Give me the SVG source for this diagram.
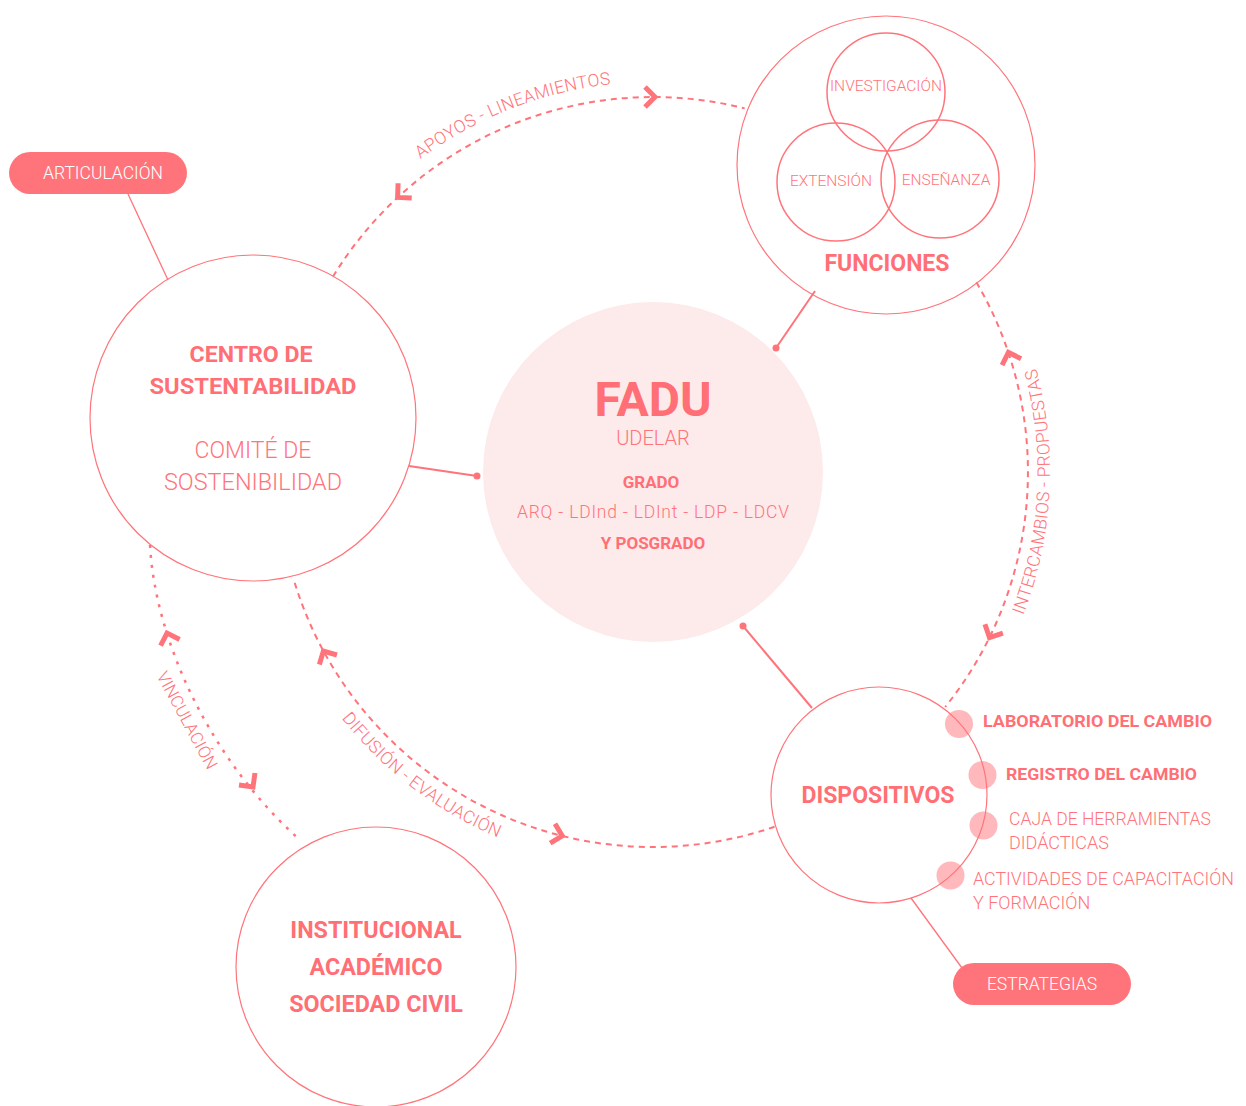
<svg xmlns="http://www.w3.org/2000/svg" xmlns:xlink="http://www.w3.org/1999/xlink" width="1246" height="1106" viewBox="0 0 1246 1106">
<style>
.t{font-family:Roboto,'Liberation Sans',sans-serif;fill:#ff747a;font-weight:300}
.b{font-family:Roboto,'Liberation Sans',sans-serif;fill:#ff6f75;font-weight:700}
.w{font-family:Roboto,'Liberation Sans',sans-serif;fill:#ffffff;font-weight:300;font-size:17.5px}
.c{text-anchor:middle}
.arc{font-size:17.5px;letter-spacing:0.3px}
.ring{fill:none;stroke:#ff747a;stroke-width:1.2}
.venn{fill:none;stroke:#ff747a;stroke-width:1.5}
.dash{fill:none;stroke:#ff747a;stroke-width:2;stroke-dasharray:6 5}
.dot{fill:none;stroke:#ff747a;stroke-width:2.5;stroke-dasharray:3 7}
.link{stroke:#ff747a;stroke-width:2;fill:none}
.thin{stroke:#ff747a;stroke-width:1.3;fill:none}
.chev{fill:none;stroke:#ff747a;stroke-width:5;stroke-linejoin:miter}
.pill{fill:#ff747a}
.bul{fill:#ff747a;opacity:0.5}
</style>
<defs>
<path id="chev" d="M-10,-10 L0,0 L-10,10"/>
<path id="pTop" d="M267.4,413.7 A390,390 0 0 1 896.3,167.2"/>
<path id="pRight" d="M833.2,825.7 A397,397 0 0 0 869.2,139"/>
<path id="pBottom" d="M259.2,421.5 A397,397 0 0 0 806.2,838.2"/>
</defs>

<g id="connectors">
<path class="dash" d="M333,276.6 A375,375 0 0 1 744.7,108.4"/>
<path class="dash" d="M976.4,282.3 A375,375 0 0 1 945.2,707"/>
<path class="dash" d="M774.5,826.8 A375,375 0 0 1 293.8,579.8"/>
<path class="dot" d="M150,545 C155,640 210,760 300,840"/>
<use href="#chev" class="chev" transform="translate(655,97) rotate(0)"/>
<use href="#chev" class="chev" transform="translate(397.6,197.4) rotate(137)"/>
<use href="#chev" class="chev" transform="translate(1008.4,352.4) rotate(-108.6)"/>
<use href="#chev" class="chev" transform="translate(989.5,637.6) rotate(116.2)"/>
<use href="#chev" class="chev" transform="translate(323.4,651) rotate(-118.5)"/>
<use href="#chev" class="chev" transform="translate(562.3,835.9) rotate(14)"/>
<use href="#chev" class="chev" transform="translate(167,633) rotate(-108)"/>
<use href="#chev" class="chev" transform="translate(253,787) rotate(53)"/>
<text class="t arc"><textPath href="#pTop" startOffset="50%" text-anchor="middle">APOYOS - LINEAMIENTOS</textPath></text>
<text class="t arc"><textPath href="#pRight" startOffset="50%" text-anchor="middle">INTERCAMBIOS - PROPUESTAS</textPath></text>
<text class="t arc"><textPath href="#pBottom" startOffset="50%" text-anchor="middle">DIFUSIÓN - EVALUACIÓN</textPath></text>
<text class="t c" font-size="17" transform="translate(182,723) rotate(61.6)">VINCULACIÓN</text>
<line class="link" x1="409" y1="466" x2="477" y2="476"/>
<circle cx="477" cy="476" r="3.5" fill="#ff747a"/>
<line class="link" x1="815" y1="291" x2="776" y2="348"/>
<circle cx="776" cy="348" r="3.5" fill="#ff747a"/>
<line class="link" x1="812" y1="708" x2="743" y2="626"/>
<circle cx="743" cy="626" r="3.5" fill="#ff747a"/>
<line class="thin" x1="128" y1="194" x2="168" y2="280"/>
<line class="thin" x1="911" y1="898" x2="962" y2="968"/>
</g>

<g id="fadu">
<circle cx="653" cy="472" r="170" fill="#fdeaeb"/>
<text class="b c" x="653" y="416" font-size="48">FADU</text>
<text class="t c" x="653" y="445" font-size="20">UDELAR</text>
<text class="b c" x="651" y="488" font-size="17">GRADO</text>
<text class="t c" x="653" y="518" font-size="17.5" textLength="272" lengthAdjust="spacing">ARQ - LDInd - LDInt - LDP - LDCV</text>
<text class="b c" x="653" y="549" font-size="17">Y POSGRADO</text>
</g>

<g id="centro">
<circle class="ring" cx="253" cy="418" r="163"/>
<text class="b c" x="251" y="362" font-size="22" textLength="123" lengthAdjust="spacingAndGlyphs">CENTRO DE</text>
<text class="b c" x="253" y="394" font-size="22" textLength="207" lengthAdjust="spacingAndGlyphs">SUSTENTABILIDAD</text>
<text class="t c" x="253" y="458" font-size="23">COMITÉ DE</text>
<text class="t c" x="253" y="490" font-size="23" textLength="178" lengthAdjust="spacingAndGlyphs">SOSTENIBILIDAD</text>
</g>

<g id="articulacion">
<rect class="pill" x="9" y="152" width="178" height="42" rx="21"/>
<text class="w c" x="103" y="179">ARTICULACIÓN</text>
</g>

<g id="funciones">
<circle class="ring" cx="886" cy="165" r="149"/>
<circle class="venn" cx="886" cy="92" r="59"/>
<circle class="venn" cx="836" cy="182" r="59"/>
<circle class="venn" cx="940" cy="179" r="59"/>
<text class="t c" x="886" y="91" font-size="15.5">INVESTIGACIÓN</text>
<text class="t c" x="831" y="186" font-size="15.5">EXTENSIÓN</text>
<text class="t c" x="946" y="185" font-size="15.5">ENSEÑANZA</text>
<text class="b c" x="887" y="271" font-size="23">FUNCIONES</text>
</g>

<g id="dispositivos">
<circle class="ring" cx="879" cy="795" r="108"/>
<text class="b c" x="878" y="803" font-size="23">DISPOSITIVOS</text>
<circle class="bul" cx="959" cy="724" r="14"/>
<circle class="bul" cx="982.5" cy="775" r="14"/>
<circle class="bul" cx="983.5" cy="825.5" r="14"/>
<circle class="bul" cx="950.5" cy="875.5" r="14"/>
<text class="b" x="983" y="727" font-size="17" textLength="229" lengthAdjust="spacingAndGlyphs">LABORATORIO DEL CAMBIO</text>
<text class="b" x="1006" y="780" font-size="17" textLength="191" lengthAdjust="spacingAndGlyphs">REGISTRO DEL CAMBIO</text>
<text class="t" x="1009" y="825" font-size="18" textLength="202" lengthAdjust="spacingAndGlyphs">CAJA DE HERRAMIENTAS</text>
<text class="t" x="1009" y="849" font-size="18">DIDÁCTICAS</text>
<text class="t" x="973" y="885" font-size="18" textLength="261" lengthAdjust="spacingAndGlyphs">ACTIVIDADES DE CAPACITACIÓN</text>
<text class="t" x="973" y="909" font-size="18">Y FORMACIÓN</text>
</g>

<g id="estrategias">
<rect class="pill" x="953" y="963" width="178" height="42" rx="21"/>
<text class="w c" x="1042" y="990">ESTRATEGIAS</text>
</g>

<g id="institucional">
<circle class="ring" cx="376" cy="967" r="140"/>
<text class="b c" x="376" y="938" font-size="23.3">INSTITUCIONAL</text>
<text class="b c" x="376" y="975" font-size="23.3">ACADÉMICO</text>
<text class="b c" x="376" y="1012" font-size="23.3">SOCIEDAD CIVIL</text>
</g>
</svg>
